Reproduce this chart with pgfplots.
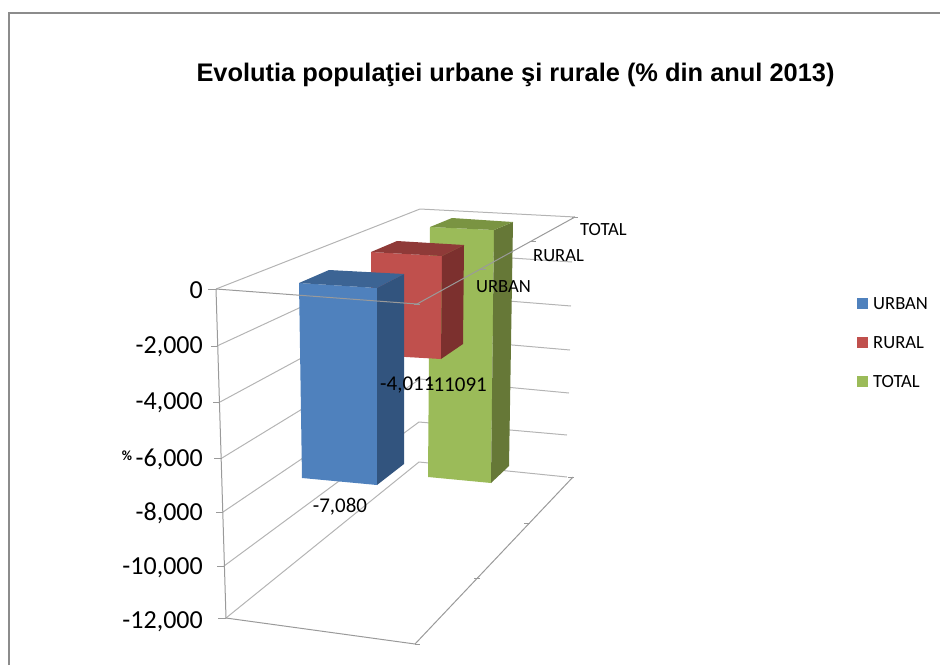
\documentclass[border=0pt]{standalone}
\usepackage{fontspec}
\setmainfont{Carlito}
\newfontfamily\titlefont{Liberation Sans}
\usepackage{pgfplots}
\pgfplotsset{compat=1.18}
\definecolor{bluef}{HTML}{4F81BD}\definecolor{blues}{HTML}{32547E}\definecolor{bluet}{HTML}{3C6494}
\definecolor{redf}{HTML}{C0504D}\definecolor{reds}{HTML}{7C302E}\definecolor{redt}{HTML}{8F3A38}
\definecolor{greenf}{HTML}{9BBB59}\definecolor{greens}{HTML}{667837}\definecolor{greent}{HTML}{7A9442}
\definecolor{wall}{HTML}{B4B4B4}
\definecolor{axisg}{HTML}{9A9A9A}
\definecolor{framec}{HTML}{8C8C8C}
\begin{document}
\begin{tikzpicture}
% all coordinates are pixels of the reference, y downwards
\begin{axis}[scale only axis, width=940pt, height=665pt, xmin=0, xmax=940, ymin=0, ymax=665,
  y dir=reverse, hide axis, clip=true]
% keep the whole canvas in the bounding box
\path (axis cs:0,0) rectangle (axis cs:940,665);
% frame
\addplot[color=framec, line width=2pt] coordinates {(9,665) (9,12.5) (940,12.5)};
% left wall
\addplot[wall, line width=1pt] coordinates {(216,289) (420,209) (575,217)};
\addplot[wall, line width=1pt] coordinates {(217,346) (420,252) (572,262)};
\addplot[wall, line width=1pt] coordinates {(220,402) (420,294) (571,306)};
\addplot[wall, line width=1pt] coordinates {(222,458) (420,337) (570,350)};
\addplot[wall, line width=1pt] coordinates {(223,512) (420,379) (569,393)};
\addplot[wall, line width=1pt] coordinates {(224,566) (419,422) (567,435)};
\addplot[wall, line width=1pt] coordinates {(226,618) (419,462) (567,477)};
\addplot[axisg, line width=1pt] coordinates {(216,289) (226,618) (415,644) (573,477)};
% y axis ticks
\addplot[axisg, line width=1pt] coordinates {(208,289) (216,289)};
\addplot[axisg, line width=1pt] coordinates {(211,346) (217,346)};
\addplot[axisg, line width=1pt] coordinates {(213,402) (220,402)};
\addplot[axisg, line width=1pt] coordinates {(214,458) (222,458)};
\addplot[axisg, line width=1pt] coordinates {(216,512) (223,512)};
\addplot[axisg, line width=1pt] coordinates {(217,566) (224,566)};
\addplot[axisg, line width=1pt] coordinates {(218,618) (226,618)};
% floor ticks
\addplot[axisg, line width=1pt] coordinates {(474,578) (480,578)};
\addplot[axisg, line width=1pt] coordinates {(524,523) (530,523)};
\addplot[axisg, line width=1pt] coordinates {(568,477) (574,477)};
\addplot[axisg, line width=1pt] coordinates {(415,644) (420,644)};
% TOTAL bar
\addplot[draw=none, fill=greenf] coordinates {(430,227) (494,230) (491,483) (428,477)} -- cycle;
\addplot[draw=none, fill=greens] coordinates {(494,230) (513,222) (509,466) (491,483)} -- cycle;
\addplot[draw=none, fill=greent] coordinates {(430,227) (452,218) (513,222) (494,230)} -- cycle;
% RURAL bar
\addplot[draw=none, fill=redf] coordinates {(371,252) (442,256) (441,359) (371,355)} -- cycle;
\addplot[draw=none, fill=reds] coordinates {(442,256) (464,245) (463,344) (441,359)} -- cycle;
\addplot[draw=none, fill=redt] coordinates {(371,252) (397,241) (464,245) (442,256)} -- cycle;
% URBAN bar
\addplot[draw=none, fill=bluef] coordinates {(299,283) (377,288) (377,485) (302,478)} -- cycle;
\addplot[draw=none, fill=blues] coordinates {(377,288) (404,274) (404,464) (377,485)} -- cycle;
\addplot[draw=none, fill=bluet] coordinates {(299,283) (329,270) (404,274) (377,288)} -- cycle;
% front edges of the top plane run over the bars
\addplot[axisg, line width=1pt] coordinates {(216,289) (417,304) (575,217)};
\addplot[axisg, line width=1pt] coordinates {(414,304) (420,304)};
\addplot[axisg, line width=1pt] coordinates {(480,269) (486,269)};
\addplot[axisg, line width=1pt] coordinates {(530,241) (536,241)};
\addplot[axisg, line width=1pt] coordinates {(572,217) (578,217)};
% legend swatches
\addplot[draw=none, fill=bluef] coordinates {(857,298) (868,298) (868,309) (857,309)} -- cycle;
\addplot[draw=none, fill=redf] coordinates {(857,337) (868,337) (868,348) (857,348)} -- cycle;
\addplot[draw=none, fill=greenf] coordinates {(857,376) (868,376) (868,387) (857,387)} -- cycle;
% texts
\node[anchor=center, font=\titlefont\bfseries\fontsize{25.4}{28}\selectfont] at (axis cs:515.5,75) {Evolutia populaţiei urbane şi rurale (\% din anul 2013)};
\foreach \ylab/\ypos in {0/290,-2{,}000/347,-4{,}000/403,-6{,}000/459,-8{,}000/513,-10{,}000/568,-12{,}000/622}{
  \edef\temp{\noexpand\node[anchor=east, font=\noexpand\fontsize{26}{28}\noexpand\selectfont, inner sep=0pt] at (axis cs:203,\ypos) {\ylab};}\temp
}
\node[anchor=center, font=\fontsize{14}{16}\selectfont\bfseries] at (axis cs:127,456) {\%};
\node[anchor=west, inner sep=0pt, font=\fontsize{18.6}{20}\selectfont] at (axis cs:476,287) {URBAN};
\node[anchor=west, inner sep=0pt, font=\fontsize{18.6}{20}\selectfont] at (axis cs:533,256) {RURAL};
\node[anchor=west, inner sep=0pt, font=\fontsize{18.6}{20}\selectfont] at (axis cs:580,230) {TOTAL};
\node[anchor=west, inner sep=0pt, font=\fontsize{18.6}{20}\selectfont] at (axis cs:873,304) {URBAN};
\node[anchor=west, inner sep=0pt, font=\fontsize{18.6}{20}\selectfont] at (axis cs:873,343) {RURAL};
\node[anchor=west, inner sep=0pt, font=\fontsize{18.6}{20}\selectfont] at (axis cs:873,382) {TOTAL};
\node[anchor=center, inner sep=0pt, font=\fontsize{21}{23}\selectfont] at (axis cs:340,507) {-7,080};
\node[anchor=west, inner sep=0pt, font=\fontsize{21}{23}\selectfont] at (axis cs:380,385) {-4,011};
\node[anchor=east, inner sep=0pt, font=\fontsize{21}{23}\selectfont] at (axis cs:487,385) {-11091};
\end{axis}
\end{tikzpicture}
\end{document}
